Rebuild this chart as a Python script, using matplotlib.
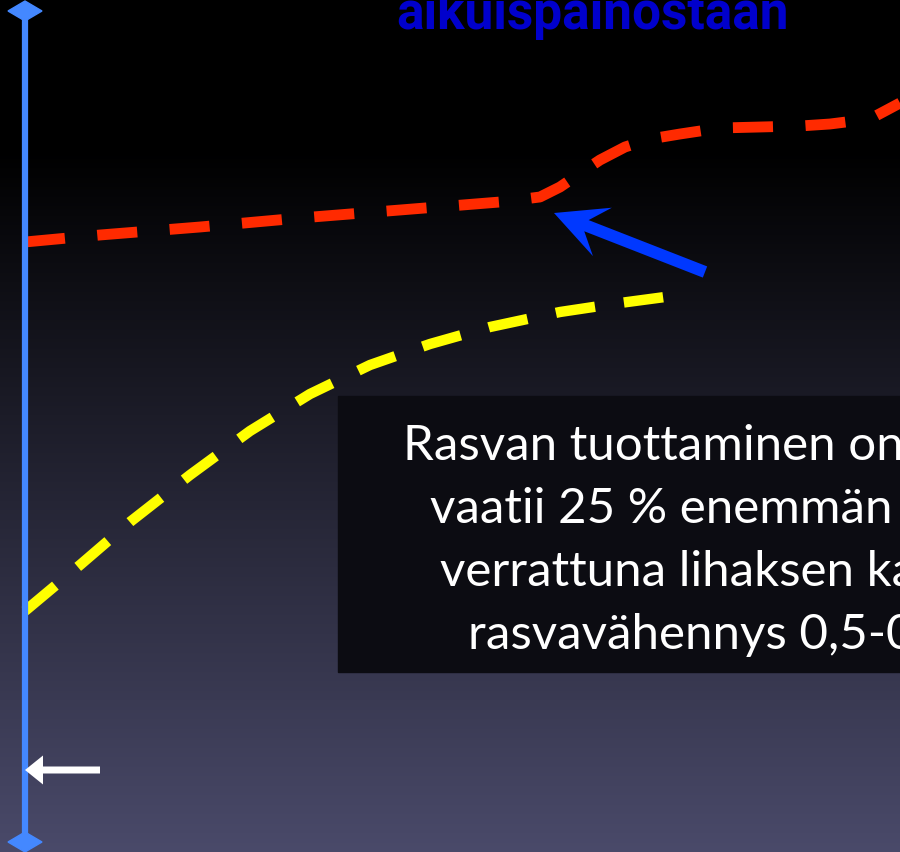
import numpy as np
import matplotlib.pyplot as plt
from matplotlib.patches import FancyArrow, Rectangle, Polygon

# curve points (pixel-like units, y grows downward)
red_x = [25, 100, 200, 300, 400, 500, 540, 560, 582, 600, 625, 650, 680, 720, 760, 800, 830, 870, 900]
red_y = [243, 236, 228, 219, 211, 203, 198, 188, 173, 161, 148, 140, 135, 129, 128, 127, 125, 120, 104]

yellow_x = [25, 80, 130, 190, 250, 310, 370, 430, 490, 560, 620, 680]
yellow_y = [612, 566, 523, 476, 432, 395, 366, 345, 328, 313, 304, 296]

title = "aikuispainostaan"
box_lines = ["Rasvan tuottaminen on",
             "vaatii 25 % enemmän",
             "verrattuna lihaksen kasvuun",
             "rasvavähennys 0,5-0,"]

W, H = 900, 853
fig = plt.figure(figsize=(9, 8.53), dpi=100)
ax = fig.add_axes([0, 0, 1, 1])
ax.set_xlim(0, W)
ax.set_ylim(H, 0)
ax.axis('off')

# background: black at top fading to greyish blue at the bottom
t = np.clip((np.arange(H) - 150) / (H - 150), 0, 1)
bottom = np.array([74, 74, 106]) / 255
grad = t[:, None, None] * bottom[None, None, :]
ax.imshow(np.repeat(grad, 2, axis=1), extent=[0, W, H, 0], aspect='auto', zorder=0)

# title, cut at the top of the picture
ax.text(592, 29, title, color='#0000cc', fontsize=37, fontweight='bold',
        family='Roboto', ha='center', va='baseline')

# vertical axis with diamond ends
axis_col = '#4488ff'
ax.plot([25, 25], [12, 843], color=axis_col, lw=4.5, solid_capstyle='butt', zorder=3)
for cy in (12, 843):
    ax.add_patch(Polygon([[8, cy], [25, cy - 10], [42, cy], [25, cy + 10]],
                         closed=True, color=axis_col, zorder=3))

# white arrow near the bottom
ax.add_patch(FancyArrow(100, 771, -75, 0, width=7, head_width=29, head_length=18,
                        length_includes_head=True, color='white', lw=0, zorder=4))

# dashed curves
ax.plot(red_x, red_y, color='#ff2a00', lw=7.8, dashes=(3.7, 3.0),
        dash_capstyle='butt', zorder=2)
ax.plot(yellow_x, yellow_y, color='#ffff00', lw=7.5, dashes=(3.8, 2.8),
        dash_capstyle='butt', zorder=2)

# blue arrow pointing at the bend
ax.add_patch(FancyArrow(705, 273, -151, -59, width=12, head_width=52, head_length=52,
                        overhang=0.33, length_includes_head=True,
                        color='#0038ff', lw=0, zorder=4))

# text box
ax.add_patch(Rectangle((338, 397), 600, 276, color='#0c0c12', zorder=5))
starts = [403, 430, 440, 468]
for i, line in enumerate(box_lines):
    ax.text(starts[i], 460 + i * 63, line, color='white', fontsize=35.5,
            family='Lato', ha='left', va='baseline', zorder=6)

fig.savefig('out.png', dpi=100)
